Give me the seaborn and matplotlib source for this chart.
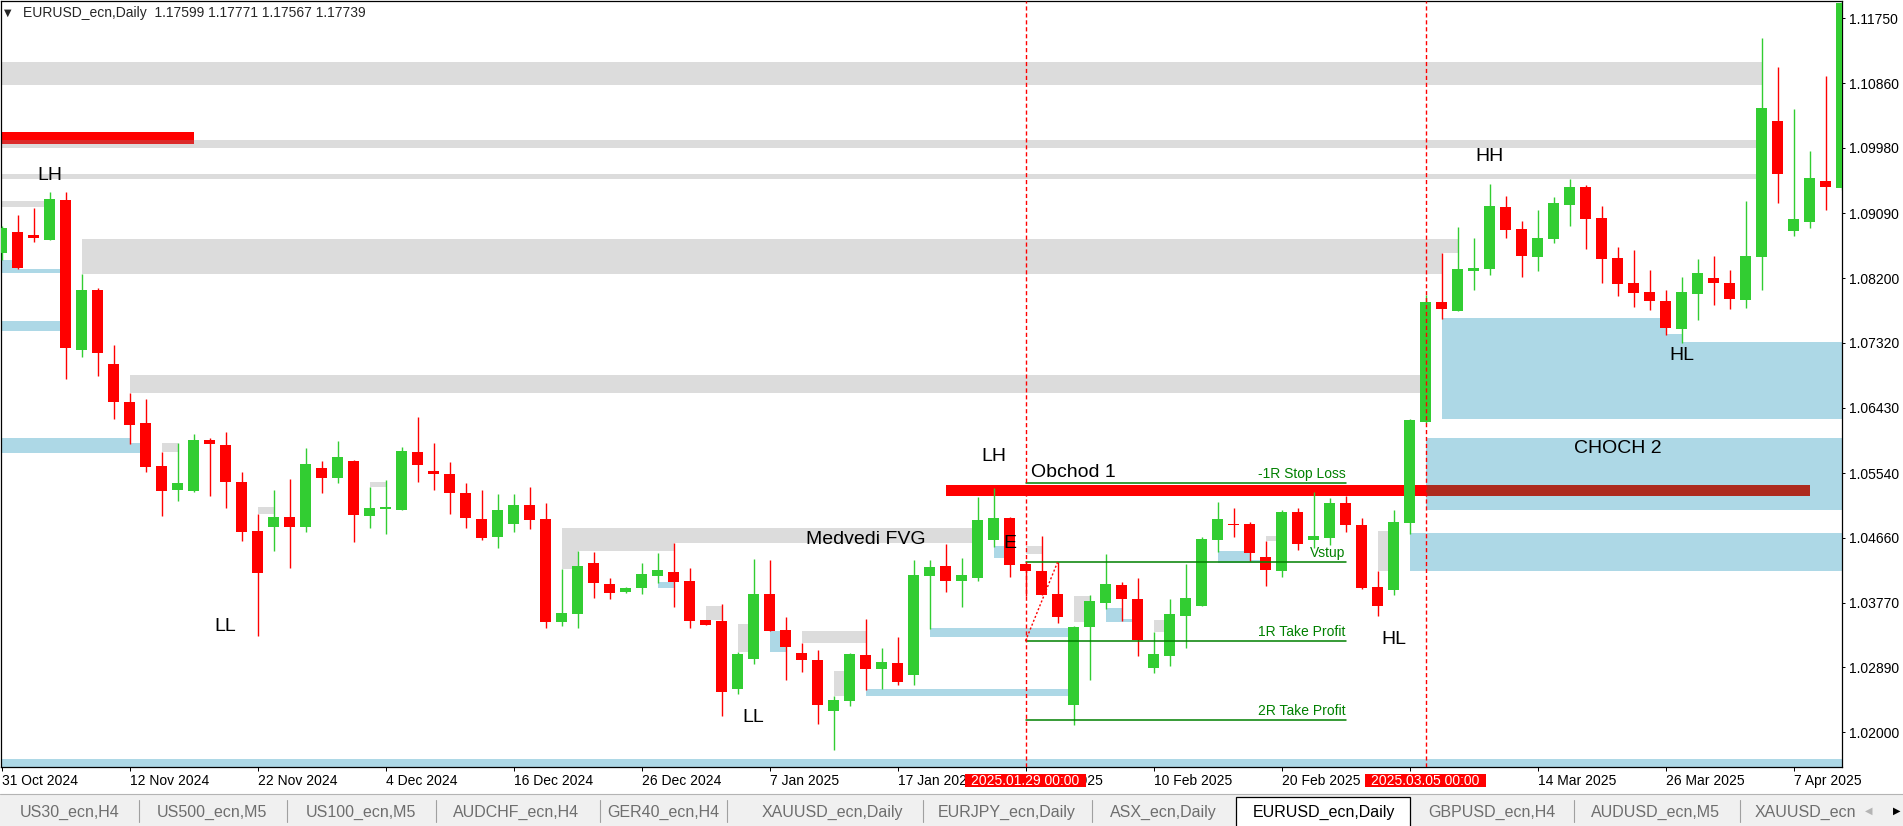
import matplotlib
matplotlib.use("Agg")
import matplotlib.pyplot as plt
import matplotlib.patches as mpatches
import matplotlib.transforms as mtransforms
import numpy as np
import pandas as pd
import seaborn as sns

# one daily bar per weekday, 31 Oct 2024 .. 10 Apr 2025
dates = pd.bdate_range("2024-10-31", "2025-04-10")

opens = [
    1.08545, 1.08836, 1.08791, 1.08723, 1.09269, 1.07221, 1.08040, 1.07030, 1.06511, 1.06224,
    1.05637, 1.05309, 1.05300, 1.05992, 1.05924, 1.05418, 1.04749, 1.04808, 1.04940, 1.04808,
    1.05609, 1.05477, 1.05705, 1.04958, 1.05054, 1.05040, 1.05828, 1.05568, 1.05528, 1.05268,
    1.04913, 1.04671, 1.04849, 1.05104, 1.04913, 1.03511, 1.03620, 1.04312, 1.04025, 1.03920,
    1.03975, 1.04139, 1.04189, 1.04066, 1.03534, 1.03520, 1.02596, 1.03005, 1.03889, 1.03397,
    1.03083, 1.02988, 1.02295, 1.02432, 1.03056, 1.02869, 1.02947, 1.02787, 1.04139, 1.04271,
    1.04070, 1.04112, 1.04630, 1.04927, 1.04299, 1.04199, 1.03889, 1.02377, 1.03442, 1.03770,
    1.04012, 1.03821, 1.02883, 1.03046, 1.03593, 1.03729, 1.04630, 1.04845, 1.04845, 1.04394,
    1.04207, 1.05009, 1.04630, 1.04658, 1.05132, 1.04831, 1.03985, 1.03948, 1.04863, 1.06242,
    1.07876, 1.07757, 1.08304, 1.08331, 1.09173, 1.08873, 1.08495, 1.08740, 1.09205, 1.09447,
    1.09023, 1.08481, 1.08136, 1.08013, 1.07890, 1.07512, 1.07990, 1.08204, 1.08136, 1.07908,
    1.08495, 1.10348, 1.08850, 1.08973, 1.09528, 1.09437,
]
highs = [
    1.08914, 1.09064, 1.09160, 1.09378, 1.09378, 1.08259, 1.08067, 1.07289, 1.06630, 1.06552,
    1.05832, 1.05951, 1.06074, 1.06015, 1.06101, 1.05555, 1.04981, 1.05309, 1.05459, 1.05878,
    1.05705, 1.05978, 1.05719, 1.05350, 1.05446, 1.05896, 1.06306, 1.05951, 1.05691, 1.05405,
    1.05309, 1.05254, 1.05254, 1.05350, 1.05132, 1.04230, 1.04476, 1.04462, 1.04107, 1.03985,
    1.04312, 1.04449, 1.04585, 1.04244, 1.03534, 1.03752, 1.03101, 1.04367, 1.04353, 1.03575,
    1.03224, 1.03128, 1.02500, 1.03088, 1.03548, 1.03152, 1.03302, 1.04353, 1.04353, 1.04572,
    1.04381, 1.05213, 1.05336, 1.04940, 1.04310, 1.04681, 1.04330, 1.03450, 1.03875, 1.04435,
    1.04053, 1.04107, 1.03370, 1.03821, 1.04303, 1.04667, 1.05145, 1.05063, 1.04872, 1.04617,
    1.05036, 1.05063, 1.05282, 1.05200, 1.05227, 1.04927, 1.04203, 1.05036, 1.06279, 1.07972,
    1.08545, 1.08900, 1.08750, 1.09487, 1.09324, 1.08982, 1.09132, 1.09310, 1.09556, 1.09474,
    1.09187, 1.08631, 1.08590, 1.08317, 1.08044, 1.08222, 1.08467, 1.08508, 1.08317, 1.09255,
    1.11481, 1.11085, 1.10512, 1.09938, 1.10962, 1.12150,
]
lows = [
    1.08449, 1.08323, 1.08700, 1.08716, 1.06825, 1.07129, 1.06870, 1.06279, 1.05941, 1.05559,
    1.04958, 1.05163, 1.05286, 1.05231, 1.05067, 1.04617, 1.03320, 1.04480, 1.04248, 1.04740,
    1.05272, 1.05409, 1.04603, 1.04794, 1.04708, 1.05040, 1.05422, 1.05313, 1.04985, 1.04794,
    1.04630, 1.04521, 1.04740, 1.04781, 1.03429, 1.03456, 1.03429, 1.03838, 1.03825, 1.03903,
    1.03893, 1.04043, 1.03716, 1.03429, 1.03470, 1.02227, 1.02527, 1.02937, 1.03384, 1.02719,
    1.02828, 1.02118, 1.01763, 1.02364, 1.02582, 1.02596, 1.02650, 1.02650, 1.03415, 1.03920,
    1.03716, 1.04070, 1.04535, 1.04125, 1.03860, 1.03880, 1.03497, 1.02104, 1.02719, 1.03688,
    1.03524, 1.03046, 1.02814, 1.02910, 1.03156, 1.03729, 1.04467, 1.04671, 1.04344, 1.04002,
    1.04125, 1.04494, 1.04521, 1.04562, 1.04740, 1.03961, 1.03593, 1.03879, 1.04712, 1.06220,
    1.07648, 1.07757, 1.08044, 1.08249, 1.08754, 1.08222, 1.08304, 1.08686, 1.08918, 1.08604,
    1.08140, 1.07962, 1.07812, 1.07771, 1.07430, 1.07320, 1.07634, 1.07839, 1.07785, 1.07798,
    1.08044, 1.09232, 1.08782, 1.08891, 1.09137, 1.09400,
]
closes = [
    1.08886, 1.08345, 1.08754, 1.09283, 1.07252, 1.08040, 1.07184, 1.06515, 1.06201, 1.05627,
    1.05300, 1.05405, 1.05992, 1.05941, 1.05422, 1.04740, 1.04180, 1.04940, 1.04808, 1.05664,
    1.05477, 1.05760, 1.04968, 1.05063, 1.05081, 1.05842, 1.05654, 1.05532, 1.05272, 1.04931,
    1.04658, 1.05036, 1.05104, 1.04904, 1.03511, 1.03629, 1.04271, 1.04043, 1.03907, 1.03971,
    1.04162, 1.04217, 1.04057, 1.03524, 1.03470, 1.02555, 1.03070, 1.03889, 1.03388, 1.03169,
    1.02992, 1.02377, 1.02437, 1.03070, 1.02869, 1.02960, 1.02691, 1.04148, 1.04258, 1.04070,
    1.04148, 1.04899, 1.04927, 1.04289, 1.04207, 1.03880, 1.03579, 1.03438, 1.03793, 1.04025,
    1.03825, 1.03265, 1.03070, 1.03616, 1.03834, 1.04640, 1.04913, 1.04835, 1.04453, 1.04221,
    1.05009, 1.04576, 1.04681, 1.05132, 1.04835, 1.03975, 1.03729, 1.04872, 1.06265, 1.07876,
    1.07785, 1.08327, 1.08340, 1.09187, 1.08863, 1.08508, 1.08750, 1.09228, 1.09447, 1.09014,
    1.08467, 1.08126, 1.08003, 1.07894, 1.07525, 1.08013, 1.08272, 1.08140, 1.07921, 1.08504,
    1.10525, 1.09628, 1.09010, 1.09569, 1.09451, 1.11960,
]

price_ticks = [1.11750, 1.10860, 1.09980, 1.09090, 1.08200, 1.07320,
               1.06430, 1.05540, 1.04660, 1.03770, 1.02890, 1.02000]
tick_dates = ["2024-10-31", "2024-11-12", "2024-11-22", "2024-12-04", "2024-12-16",
              "2024-12-26", "2025-01-07", "2025-01-17", "2025-01-29", "2025-02-10",
              "2025-02-20", "2025-03-04", "2025-03-14", "2025-03-26", "2025-04-07"]
# the 29 Jan / 4 Mar labels sit under the red time-marker boxes
tick_labels = ["31 Oct 2024", "12 Nov 2024", "22 Nov 2024", "4 Dec 2024", "16 Dec 2024",
               "26 Dec 2024", "7 Jan 2025", "17 Jan 2025", "29 Jan 2025", "10 Feb 2025",
               "20 Feb 2025", "", "14 Mar 2025", "26 Mar 2025", "7 Apr 2025"]

# zones: (start date, end date, low, high); None = runs off the chart edge
gray_zones = [
    (None, "2025-04-03", 1.10843, 1.11153),
    (None, "2025-04-03", 1.09983, 1.10088),
    (None, "2025-04-03", 1.09560, 1.09624),
    (None, "2024-11-05", 1.09173, 1.09255),
    ("2024-11-07", "2025-03-06", 1.08259, 1.08736),
    ("2025-03-06", "2025-03-07", 1.08545, 1.08736),
    ("2024-11-12", "2025-03-05", 1.06638, 1.06879),
    ("2024-12-19", "2025-01-24", 1.04585, 1.04790),
    ("2024-12-19", "2024-12-30", 1.04476, 1.04790),
    ("2024-12-19", "2024-12-20", 1.04230, 1.04790),
    ("2024-11-14", "2024-11-15", 1.05832, 1.05951),
    ("2024-11-22", "2024-11-25", 1.04985, 1.05077),
    ("2024-12-03", "2024-12-04", 1.05354, 1.05418),
    ("2025-01-01", "2025-01-02", 1.03534, 1.03725),
    ("2025-01-03", "2025-01-06", 1.03097, 1.03479),
    ("2025-01-09", "2025-01-15", 1.03224, 1.03384),
    ("2025-01-13", "2025-01-14", 1.02500, 1.02837),
    ("2025-01-29", "2025-01-30", 1.04435, 1.04540),
    ("2025-02-03", "2025-02-04", 1.03507, 1.03862),
    ("2025-02-10", "2025-02-11", 1.03374, 1.03534),
    ("2025-02-19", "2025-02-20", 1.04617, 1.04681),
    ("2025-02-28", "2025-03-03", 1.04203, 1.04749),
]
blue_zones = [
    (None, "2024-11-01", 1.08272, 1.08449),
    (None, "2024-11-06", 1.08272, 1.08327),
    (None, "2024-11-06", 1.07484, 1.07617),
    (None, "2024-11-12", 1.05814, 1.06019),
    (None, "2024-11-13", 1.05814, 1.05951),
    ("2024-12-27", "2024-12-30", 1.03975, 1.04053),
    ("2025-01-07", "2025-01-08", 1.03101, 1.03384),
    ("2025-01-21", "2025-02-03", 1.03306, 1.03425),
    ("2025-01-15", "2025-02-03", 1.02500, 1.02592),
    ("2025-01-27", "2025-01-28", 1.04384, 1.04540),
    ("2025-02-05", "2025-02-06", 1.03511, 1.03698),
    ("2025-02-06", "2025-02-07", 1.03511, 1.03547),
    ("2025-02-14", "2025-02-18", 1.04308, 1.04476),
    ("2025-02-18", "2025-02-19", 1.04308, 1.04353),
    ("2025-03-04", None, 1.04203, 1.04722),
    ("2025-03-05", None, 1.05040, 1.06019),
    ("2025-03-06", "2025-03-26", 1.06279, 1.07658),
    ("2025-03-26", "2025-03-27", 1.06279, 1.07439),
    ("2025-03-27", None, 1.06279, 1.07326),
    (None, None, 1.01400, 1.01636),
]
red_zones = [
    (None, "2024-11-18", 1.10034, 1.10198, "#FF0000"),
    (None, "2024-11-18", 1.10034, 1.10088, "#DC2A2A"),
    ("2025-01-22", "2025-03-05", 1.05227, 1.05377, "#FF0000"),
    ("2025-03-05", "2025-04-08", 1.05227, 1.05377, "#AD2A1E"),
]

# trade plan lines
trade_start, trade_end = "2025-01-29", "2025-02-26"
trade_levels = [1.05400, 1.04322, 1.03247, 1.02166]
trade_labels = ["-1R Stop Loss", "Vstup", "1R Take Profit", "2R Take Profit"]

marker_dates = ["2025-01-29", "2025-03-05"]
marker_labels = ["2025.01.29 00:00", "2025.03.05 00:00"]

# market structure labels: (text, date, price)
structure = [
    ("LH", "2024-11-05", 1.0961), ("LL", "2024-11-20", 1.03445),
    ("LL", "2025-01-06", 1.02209), ("LH", "2025-01-27", 1.05773),
    ("E", "2025-01-28", 1.04572), ("HL", "2025-03-03", 1.03274),
    ("HH", "2025-03-11", 1.0986), ("HL", "2025-03-27", 1.07152),
    ("CHOCH 2", "2025-03-21", 1.05876), ("Medvedi FVG", "2025-01-15", 1.0464),
]

tab_names = ["US30_ecn,H4", "US500_ecn,M5", "US100_ecn,M5", "AUDCHF_ecn,H4", "GER40_ecn,H4",
             "XAUUSD_ecn,Daily", "EURJPY_ecn,Daily", "ASX_ecn,Daily", "EURUSD_ecn,Daily",
             "GBPUSD_ecn,H4", "AUDUSD_ecn,M5"]
tab_centers = [70, 211.5, 360.5, 516.5, 663, 832, 1007, 1163, 1323.5, 1491.5, 1655]
tab_seps = [139, 287, 435.5, 599.5, 727, 923, 1091.5, 1574, 1740]

GRAY = "#DCDCDC"
BLUE = "#ADD8E6"
UP = "#32CD32"
DOWN = "#FF0000"

sns.set_style("white")
plt.rcParams["font.family"] = ["Liberation Sans", "DejaVu Sans"]

df = pd.DataFrame({"open": opens, "high": highs, "low": lows, "close": closes})
df["bar"] = np.arange(len(df))
bar_of = {d.strftime("%Y-%m-%d"): i for i, d in enumerate(dates)}


def xpos(d, default):
    return default if d is None else bar_of[d]


W, H = 1903, 826
fig = plt.figure(figsize=(W / 100, H / 100), dpi=100, facecolor="white")
chrome = fig.add_axes([0, 0, 1, 1])
chrome.set_xlim(0, W)
chrome.set_ylim(H, 0)
chrome.axis("off")

ax = fig.add_axes([1 / W, 59 / H, 1841 / W, 766 / H])
ax.set_xlim(-0.03125, 115.03)
ax.set_ylim(1.01527, 1.11986)

for zones, color in [(gray_zones, GRAY), (blue_zones, BLUE)]:
    for s, e, lo, hi in zones:
        x0, x1 = xpos(s, -3), xpos(e, 120)
        ax.add_patch(mpatches.Rectangle((x0, lo), x1 - x0, hi - lo,
                                        facecolor=color, lw=0, zorder=1))
for s, e, lo, hi, color in red_zones:
    x0, x1 = xpos(s, -3), xpos(e, 120)
    ax.add_patch(mpatches.Rectangle((x0, lo), x1 - x0, hi - lo,
                                    facecolor=color, lw=0, zorder=2))

# candles
colors = np.where(df["close"] >= df["open"], UP, DOWN)
body_lo = np.minimum(df["open"], df["close"])
body_h = np.maximum((df["close"] - df["open"]).abs(), 0.00014)
ax.vlines(df["bar"], df["low"], df["high"], colors=colors, lw=1.0, zorder=3)
ax.bar(df["bar"], body_h, bottom=body_lo, width=0.6875, color=colors,
       lw=0, zorder=3.5)

# trade plan
t0, t1 = bar_of[trade_start], bar_of[trade_end]
for lvl, lab in zip(trade_levels, trade_labels):
    ax.plot([t0, t1], [lvl, lvl], color="#008000", lw=1.1, zorder=4)
    ax.annotate(lab, (t1, lvl), xytext=(0, 1.5), textcoords="offset points",
                ha="right", va="bottom", fontsize=10, color="#008000", zorder=5)
ax.plot([t0, t0 + 2], [trade_levels[2], trade_levels[1]], color=DOWN,
        lw=1.0, ls=(0, (1.5, 1.5)), zorder=4)
ax.annotate("Obchod 1", (t0, trade_levels[0]), xytext=(4, 2), textcoords="offset points",
            ha="left", va="bottom", fontsize=14, color="black", zorder=5)

for txt, d, p in structure:
    ax.text(bar_of[d], p, txt, ha="center", va="center", fontsize=14,
            color="black", zorder=5)

# vertical time markers
blend = mtransforms.blended_transform_factory(ax.transData, ax.transAxes)
for d, lab in zip(marker_dates, marker_labels):
    b = bar_of[d]
    ax.axvline(b, color=DOWN, lw=1.0, ls=(0, (3, 2)), zorder=6)
    ax.add_patch(mpatches.Rectangle((b - 3.8, -0.0265), 7.6, 0.017, transform=blend,
                                    facecolor=DOWN, lw=0, clip_on=False, zorder=10))
    ax.text(b, -0.018, lab, transform=blend, ha="center", va="center", fontsize=10,
            color="white", clip_on=False, zorder=11)

# header
ax.text(0.0015, 0.9845, "\u25BC", transform=ax.transAxes, fontsize=7,
        family="DejaVu Sans", va="center", ha="left", zorder=7)
ax.text(0.0118, 0.9845, "EURUSD_ecn,Daily  1.17599 1.17771 1.17567 1.17739",
        transform=ax.transAxes, fontsize=10, va="center", ha="left", zorder=7)

# axes
ax.yaxis.tick_right()
ax.set_yticks(price_ticks)
ax.set_yticklabels([f"{p:.5f}" for p in price_ticks])
ax.tick_params(axis="y", direction="out", length=2.2, width=0.72, pad=3, labelsize=10,
               colors="black", right=True, left=False)
ax.set_xticks([bar_of[d] for d in tick_dates])
ax.set_xticklabels(tick_labels, ha="left")
ax.tick_params(axis="x", direction="out", length=2.9, width=0.72, pad=2, labelsize=10,
               colors="black", bottom=True)
for sp in ax.spines.values():
    sp.set_visible(True)
    sp.set_color("black")
    sp.set_linewidth(0.9)
ax.set_xlabel("")
ax.set_ylabel("")

# tab bar
chrome.add_patch(mpatches.Rectangle((0, 794), W, 32, facecolor="#F0F0F0", lw=0))
chrome.plot([0, W], [794, 794], color="#B4B4B4", lw=0.8)
for x in tab_seps:
    chrome.plot([x, x], [800, 822], color="#A0A0A0", lw=0.8)
chrome.add_patch(mpatches.Rectangle((1235.5, 796.5), 174.5, 31, facecolor="white",
                                    edgecolor="black", lw=0.9))
for name, cx in zip(tab_names, tab_centers):
    active = name == "EURUSD_ecn,Daily"
    chrome.text(cx, 812, name, ha="center", va="center", fontsize=11.5,
                color="black" if active else "#6E6E6E")
chrome.text(1755, 812, "XAUUSD_ecn", ha="left", va="center", fontsize=11.5, color="#6E6E6E")
chrome.text(1869, 811, "\u25C0", ha="center", va="center", fontsize=7,
            family="DejaVu Sans", color="#B4B4B4")
chrome.text(1897, 811, "\u25B6", ha="center", va="center", fontsize=7,
            family="DejaVu Sans", color="black")

fig.savefig("out.png", dpi=100, facecolor="white")
